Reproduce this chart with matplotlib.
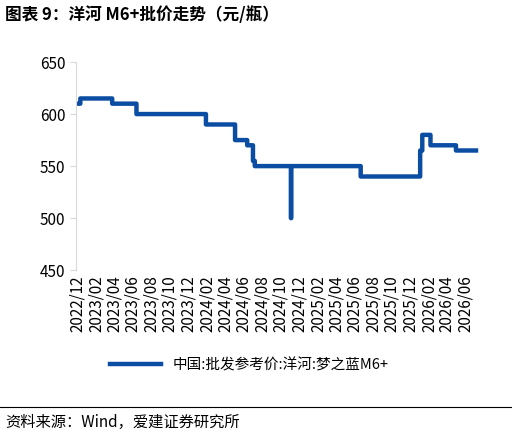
import matplotlib
matplotlib.use("Agg")
import matplotlib.pyplot as plt
import matplotlib.dates as mdates
import pandas as pd

plt.rcParams['font.family'] = ['Noto Sans CJK SC', 'DejaVu Sans']

change_dates = ["2022-12-01","2022-12-10","2023-03-25","2023-06-13","2024-01-28","2024-05-03",
                "2024-06-12","2024-07-01","2024-07-07","2024-11-03","2024-11-04","2025-06-21",
                "2026-01-03","2026-01-10","2026-02-06","2026-05-01","2026-07-06"]
change_values = [610,615,610,600,590,575,570,555,550,500,550,540,565,580,570,565,565]
tick_labels = pd.date_range("2022-12-01","2026-06-01",freq="2MS")

d = pd.to_datetime(change_dates)
s = pd.Series(change_values, index=d)
daily = s.reindex(pd.date_range(d[0], d[-1], freq="D")).ffill()

fig = plt.figure(figsize=(5.12,4.4), dpi=100)
ax = fig.add_axes([0.148,0.386,0.787,0.473])
ax.plot(daily.index, daily.values, color="#0B4DA2", lw=3.2, drawstyle="steps-post",
        label="中国:批发参考价:洋河:梦之蓝M6+")
ax.set_ylim(450,650)
ax.set_yticks(range(450,651,50))
ax.set_xlim(pd.Timestamp("2022-11-25"), pd.Timestamp("2026-07-15"))
ax.set_xticks(tick_labels)
ax.set_xticklabels([t.strftime("%Y/%m") for t in tick_labels], rotation=90)
for sp in ["top","right","bottom"]:
    ax.spines[sp].set_visible(False)
ax.spines["left"].set_color("#d9d9d9")
ax.tick_params(axis="both", labelsize=11, length=0)
ax.tick_params(axis="y", length=4, color="#d9d9d9")
ax.legend(loc="upper center", bbox_to_anchor=(0.43,-0.36), frameon=False, fontsize=10.5,
          handlelength=3.5)
fig.text(0.01,0.965,"图表 9：洋河 M6+批价走势（元/瓶）", fontsize=12, fontweight="bold", va="center")
fig.add_artist(plt.Line2D([0.0,1.0],[0.075,0.075], color="black", lw=0.8))
fig.text(0.01,0.04,"资料来源：Wind，爱建证券研究所", fontsize=11, va="center")
fig.savefig("out.png", dpi=100)
